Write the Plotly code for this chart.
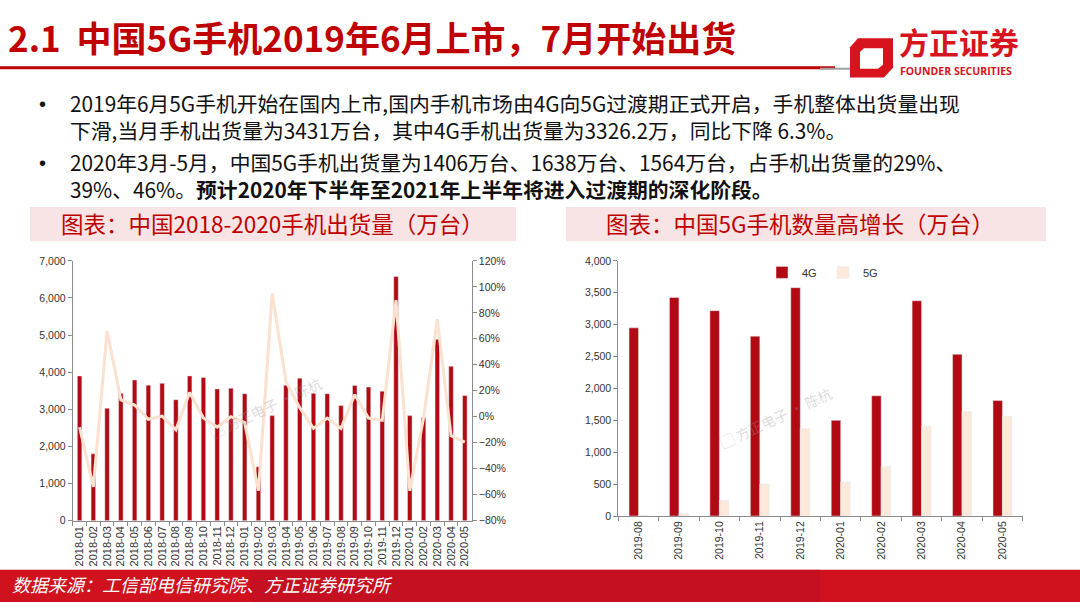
import plotly.graph_objects as go

# ---------------- data ----------------
months_all = ["2018-01", "2018-02", "2018-03", "2018-04", "2018-05", "2018-06", "2018-07",
              "2018-08", "2018-09", "2018-10", "2018-11", "2018-12", "2019-01", "2019-02",
              "2019-03", "2019-04", "2019-05", "2019-06", "2019-07", "2019-08", "2019-09",
              "2019-10", "2019-11", "2019-12", "2020-01", "2020-02", "2020-03", "2020-04",
              "2020-05"]
shipments = [3900, 1800, 3030, 3430, 3790, 3650, 3700, 3260, 3900, 3860, 3550, 3570, 3420, 1450,
             2830, 3650, 3840, 3431, 3420, 3100, 3640, 3600, 3490, 6580, 2830, 2780, 4890, 4160,
             3370]
yoy_pct = [-8, -54, 66, 13, 9, -2, 0.5, -10, 18.6, -1, -8, 0, -4.5, -57,
           95, 27, 7, -9, -1, -9, 17, -1, -2.8, 89.8, -57, -1, 75, -14.6, -19.6]

months_5g = ["2019-08", "2019-09", "2019-10", "2019-11", "2019-12",
             "2020-01", "2020-02", "2020-03", "2020-04", "2020-05"]
shipments_4g = [2950, 3426, 3220, 2820, 3580, 1500, 1885, 3375, 2535, 1810]
shipments_5g = [15, 40, 249, 502, 1370, 533, 778, 1406, 1638, 1564]

# ---------------- styles ----------------
W, H = 1080, 608
def px(x): return x / W
def py(y): return 1 - y / H

RED = "#B20A12"
TITLE_RED = "#C00000"
PEACH = "#FBE1CF"
PEACH_BAR = "#FCE9DA"
AXIS = "#8C8C8C"
TICK_FONT = dict(family="Liberation Sans, Arial", size=10.5, color="#333333")
CJK = "Noto Sans CJK SC"

fig = go.Figure()

fig.add_trace(go.Bar(x=months_all, y=shipments, marker_color=RED, width=0.33,
                     xaxis="x", yaxis="y", showlegend=False, name="出货量"))
fig.add_trace(go.Scatter(x=months_all, y=yoy_pct, mode="lines",
                         line=dict(color=PEACH, width=3),
                         xaxis="x", yaxis="y2", showlegend=False, name="同比"))
fig.add_trace(go.Bar(x=months_5g, y=shipments_4g, name="4G", marker_color=RED,
                     xaxis="x2", yaxis="y3"))
fig.add_trace(go.Bar(x=months_5g, y=shipments_5g, name="5G", marker_color=PEACH_BAR,
                     xaxis="x2", yaxis="y3"))

common_y = dict(showgrid=False, zeroline=False, showline=True, linecolor=AXIS, linewidth=1,
                ticks="outside", ticklen=4, tickcolor=AXIS, tickfont=TICK_FONT)
common_x = dict(type="category", showgrid=False, showline=True, linecolor=AXIS, linewidth=1,
                ticks="outside", ticklen=4, tickcolor=AXIS, tickson="boundaries",
                tickangle=-90)

fig.update_layout(
    width=W, height=H,
    margin=dict(l=0, r=0, t=0, b=0),
    paper_bgcolor="white", plot_bgcolor="white",
    barmode="group", bargap=0.53, bargroupgap=0.0,
    xaxis=dict(domain=[px(72.7), px(471.7)], anchor="y",
               tickfont=dict(family="Liberation Sans, Arial", size=11, color="#333333"),
               **common_x),
    yaxis=dict(domain=[py(525), py(260)], range=[0, 7000], dtick=1000,
               tickformat=",", **common_y),
    yaxis2=dict(overlaying="y", side="right", anchor="x", range=[-80, 120], dtick=20,
                ticksuffix="%", **common_y),
    xaxis2=dict(domain=[px(618.3), px(1022.7)], anchor="y3",
                tickfont=dict(family="Liberation Sans, Arial", size=10.5, color="#333333"),
                **common_x),
    yaxis3=dict(domain=[py(520.3), py(260)], anchor="x2", range=[0, 4000], dtick=500,
                tickformat=",", **common_y),
    legend=dict(orientation="h", x=px(762), y=py(257), xanchor="left", yanchor="top",
                font=dict(family="Liberation Sans, Arial", size=11, color="#333333"),
                itemwidth=30, entrywidth=16, entrywidthmode="pixels",
                bgcolor="rgba(0,0,0,0)", tracegroupgap=0),
    font=dict(family=CJK),
)

shapes = []
# header rule
shapes.append(dict(type="line", xref="paper", yref="paper", x0=0, x1=px(835),
                   y0=py(63), y1=py(63), line=dict(color="#C00000", width=3)))
shapes.append(dict(type="line", xref="paper", yref="paper", x0=px(820), x1=px(852),
                   y0=py(64), y1=py(64), line=dict(color="#A0A0A0", width=2)))
# logo icon (stylised frame)
shapes.append(dict(type="path", xref="paper", yref="paper",
                   path=f"M {px(858)},{py(33)} L {px(893)},{py(33)} L {px(893)},{py(63)} "
                        f"L {px(884)},{py(73)} L {px(850)},{py(73)} L {px(850)},{py(42)} Z",
                   fillcolor="#D7141E", line=dict(width=0)))
shapes.append(dict(type="path", xref="paper", yref="paper",
                   path=f"M {px(864)},{py(43)} L {px(883)},{py(43)} L {px(883)},{py(60)} "
                        f"L {px(878)},{py(64)} L {px(860)},{py(64)} L {px(860)},{py(47)} Z",
                   fillcolor="white", line=dict(width=0)))
# chart title boxes
shapes.append(dict(type="rect", xref="paper", yref="paper", x0=px(30), x1=px(516),
                   y0=py(240), y1=py(205), fillcolor="#F8E4E4", line=dict(width=0), layer="below"))
shapes.append(dict(type="rect", xref="paper", yref="paper", x0=px(566), x1=px(1046),
                   y0=py(240), y1=py(205), fillcolor="#F8E4E4", line=dict(width=0), layer="below"))
# footer band
shapes.append(dict(type="rect", xref="paper", yref="paper", x0=0, x1=1,
                   y0=0, y1=py(575), fillcolor="#D0121F", line=dict(width=0)))
shapes.append(dict(type="rect", xref="paper", yref="paper", x0=px(250), x1=px(820),
                   y0=0, y1=py(575), fillcolor="#B80D22", opacity=0.5, line=dict(width=0)))
fig.update_layout(shapes=shapes)

ann = []
ann.append(dict(text="<b>2.1  中国5G手机2019年6月上市，7月开始出货</b>", x=px(6), y=py(31),
                xref="paper", yref="paper", xanchor="left", yanchor="middle", showarrow=False,
                font=dict(family=CJK, size=35, color=TITLE_RED)))
# logo text
ann.append(dict(text="<b>方正证券</b>", x=px(897), y=py(36), xref="paper", yref="paper",
                xanchor="left", yanchor="middle", showarrow=False,
                font=dict(family=CJK, size=30, color="#D7141E")))
ann.append(dict(text="<b>FOUNDER SECURITIES</b>", x=px(898), y=py(66.5), xref="paper", yref="paper",
                xanchor="left", yanchor="middle", showarrow=False,
                font=dict(family="Open Sans", size=10.5, color="#D7141E")))
# bullets (each bullet is one two-line paragraph)
bullets = [
    (112.5, "2019年6月5G手机开始在国内上市,国内手机市场由4G向5G过渡期正式开启，手机整体出货量出现<br>"
            "下滑,当月手机出货量为3431万台，其中4G手机出货量为3326.2万，同比下降 6.3%。"),
    (172.5, "2020年3月-5月，中国5G手机出货量为1406万台、1638万台、1564万台，占手机出货量的29%、<br>"
            "39%、46%。<b>预计2020年下半年至2021年上半年将进入过渡期的深化阶段。</b>"),
]
for yy, txt in bullets:
    ann.append(dict(text="•", x=px(42), y=py(yy - 12.5), xref="paper", yref="paper",
                    xanchor="center", yanchor="middle", showarrow=False,
                    font=dict(family="Liberation Sans", size=20, color="#111111")))
    ann.append(dict(text=txt, x=px(68), y=py(yy), xref="paper", yref="paper",
                    xanchor="left", yanchor="middle", align="left", showarrow=False,
                    font=dict(family=CJK, size=20.8, color="#111111")))
# chart titles
ann.append(dict(text="图表：中国2018-2020手机出货量（万台）", x=px(272), y=py(221),
                xref="paper", yref="paper", xanchor="center", yanchor="middle", showarrow=False,
                font=dict(family=CJK, size=22.5, color=TITLE_RED)))
ann.append(dict(text="图表：中国5G手机数量高增长（万台）", x=px(800), y=py(221),
                xref="paper", yref="paper", xanchor="center", yanchor="middle", showarrow=False,
                font=dict(family=CJK, size=22.5, color=TITLE_RED)))
# footer text
ann.append(dict(text="<i>数据来源：工信部电信研究院、方正证券研究所</i>", x=px(10), y=py(590),
                xref="paper", yref="paper", xanchor="left", yanchor="middle", showarrow=False,
                font=dict(family=CJK, size=18, color="white")))
# watermarks
for wx, wy in [(265, 410), (775, 420)]:
    ann.append(dict(text="▢ 方正电子 · 陈杭", x=px(wx), y=py(wy), xref="paper", yref="paper",
                    xanchor="center", yanchor="middle", showarrow=False, textangle=-25,
                    font=dict(family=CJK, size=14, color="rgba(150,150,150,0.35)")))
fig.update_layout(annotations=ann)

fig.write_html("out.html", config={"displayModeBar": False},
               post_script="document.body.style.margin='0';document.body.style.overflow='hidden';")
